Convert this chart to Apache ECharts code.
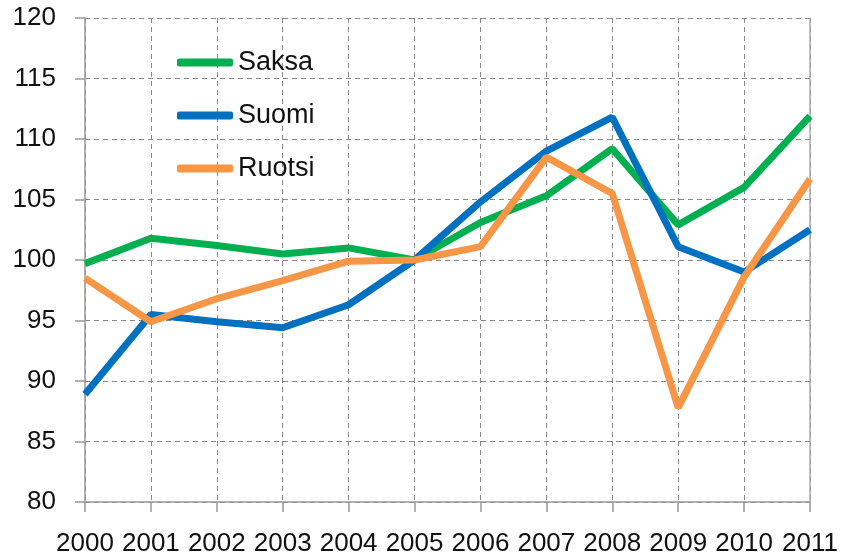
<!DOCTYPE html>
<html>
<head>
<meta charset="utf-8">
<script src="https://cdn.jsdelivr.net/npm/echarts@6/dist/echarts.min.js"></script>
<style>
  html, body { margin: 0; padding: 0; background: #fff; }
  #chart { width: 842px; height: 557px; }
</style>
</head>
<body>
<div id="chart"></div>
<script>
// vuodet
const years = ['2000','2001','2002','2003','2004','2005','2006','2007','2008','2009','2010','2011']
// indeksi, 2005 = 100
const saksa  = [99.7, 101.8, 101.2, 100.5, 101.0, 100, 103.1, 105.3, 109.2, 102.9, 106.0, 111.9]
const suomi  = [88.9, 95.5, 94.9, 94.4, 96.3, 100, 104.8, 109.0, 111.8, 101.1, 99.0, 102.5]
const ruotsi = [98.5, 94.9, 96.8, 98.3, 99.9, 100, 101.1, 108.5, 105.5, 87.8, 98.6, 106.7]

const font = 'Liberation Sans'
let myChart = echarts.init(document.getElementById('chart'))

myChart.setOption({
  animation: false,
  textStyle: { fontFamily: font },
  color: ['#00B050', '#0070C0', '#F79646'],
  grid: { left: 85, right: 32, top: 18, bottom: 55 },
  legend: {
    orient: 'vertical',
    left: 177,
    top: 49,
    padding: 0,
    icon: 'roundRect',
    itemWidth: 56,
    itemHeight: 8,
    itemGap: 26,
    textStyle: { fontFamily: font, fontSize: 27, color: '#111', lineHeight: 26 },
    data: ['Saksa', 'Suomi', 'Ruotsi']
  },
  xAxis: {
    type: 'category',
    data: years,
    boundaryGap: false,
    axisLine: { lineStyle: { color: '#999', width: 1.5 } },
    axisTick: { show: true, length: 10, lineStyle: { color: '#999', width: 1.5 } },
    axisLabel: { color: '#111', fontSize: 26, margin: 29, interval: 0 },
    splitLine: { show: true, lineStyle: { color: '#888', type: [5, 4], width: 1 } }
  },
  yAxis: [
    {
      type: 'value',
      min: 80,
      max: 120,
      interval: 5,
      axisLine: { show: true, lineStyle: { color: '#999', width: 1.5 } },
      axisTick: { show: true, length: 10, lineStyle: { color: '#999', width: 1.5 } },
      axisLabel: { color: '#111', fontSize: 26, margin: 29 },
      splitLine: { show: true, lineStyle: { color: '#888', type: [5, 4], width: 1 } }
    },
    {
      type: 'value',
      position: 'right',
      min: 80,
      max: 120,
      interval: 5,
      axisLine: { show: true, lineStyle: { color: '#aaa', width: 1.5 } },
      axisTick: { show: false },
      axisLabel: { show: false },
      splitLine: { show: false }
    }
  ],
  series: [
    { name: 'Saksa',  type: 'line', data: saksa,  symbol: 'none', lineStyle: { width: 7 }, z: 3 },
    { name: 'Suomi',  type: 'line', data: suomi,  symbol: 'none', lineStyle: { width: 7 }, z: 4 },
    { name: 'Ruotsi', type: 'line', data: ruotsi, symbol: 'none', lineStyle: { width: 7 }, z: 5 }
  ]
})
</script>
</body>
</html>
